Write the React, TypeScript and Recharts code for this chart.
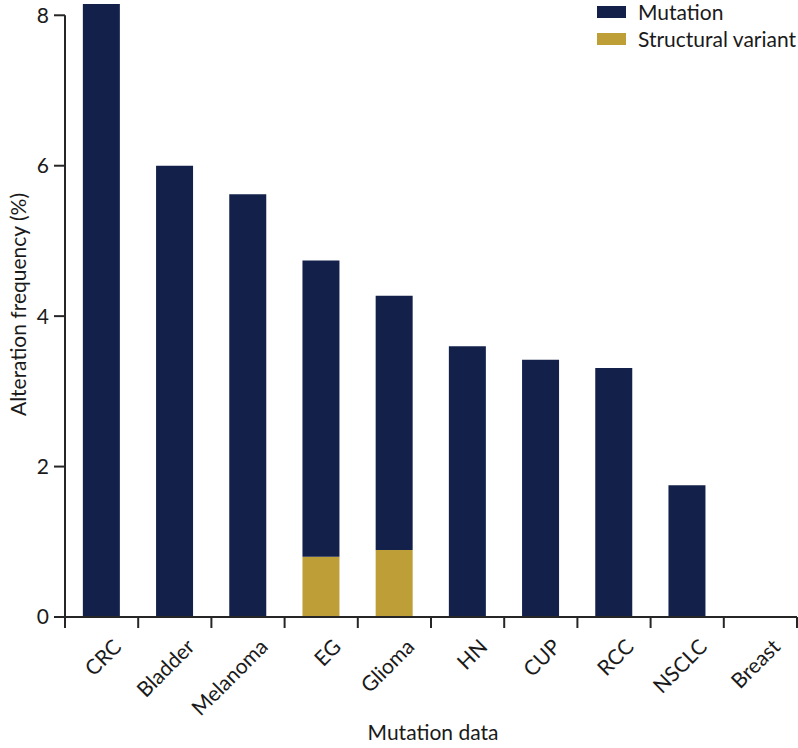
import React from "react";
import { BarChart, Bar, XAxis, YAxis, ReferenceLine, Legend, Label } from "recharts";

const categories = ["CRC", "Bladder", "Melanoma", "EG", "Glioma", "HN", "CUP", "RCC", "NSCLC", "Breast"];
const mutationValues = [8.15, 6.0, 5.62, 3.94, 3.38, 3.6, 3.42, 3.31, 1.75, 0];
const structuralValues = [0, 0, 0, 0.8, 0.89, 0, 0, 0, 0, 0];
const yTicks = [0, 2, 4, 6, 8];
const seriesNames = ["Mutation", "Structural variant"];
const xTitle = "Mutation data";
const yTitle = "Alteration frequency (%)";

const NAVY = "#13204a";
const GOLD = "#bd9e37";
const AXIS = "#262626";
const TEXT = "#1a1a1a";
const FONT = "Lato, 'Open Sans', sans-serif";
const FS = 21;

const data = categories.map((c, i) => ({
  name: c,
  mut: mutationValues[i],
  sv: structuralValues[i],
}));

const XTick = (props: any) => {
  const { x, y, payload, index, visibleTicksCount } = props;
  const off = payload.offset || 0;
  const ax = x + 16;
  const ay = y + 26;
  return (
    <g>
      <line x1={x - off} x2={x - off} y1={y} y2={y + 11} stroke={AXIS} strokeWidth={2} />
      {index === visibleTicksCount - 1 && (
        <line x1={x + off} x2={x + off} y1={y} y2={y + 11} stroke={AXIS} strokeWidth={2} />
      )}
      <text
        x={ax}
        y={ay}
        transform={`rotate(-45, ${ax}, ${ay})`}
        textAnchor="end"
        dy="0.35em"
        fill={TEXT}
        fontSize={FS}
        fontFamily={FONT}
      >
        {payload.value}
      </text>
    </g>
  );
};

const LegendContent = () => (
  <div style={{ fontFamily: FONT, fontSize: FS, color: TEXT, lineHeight: "20px" }}>
    {seriesNames.map((n, i) => (
      <div key={n} style={{ display: "flex", alignItems: "center", height: 27 }}>
        <div style={{ width: 29, height: 12, background: i === 0 ? NAVY : GOLD, marginRight: 12, flexShrink: 0 }} />
        <span style={{ whiteSpace: "nowrap" }}>{n}</span>
      </div>
    ))}
  </div>
);

export default function App() {
  return (
    <div style={{ position: "absolute", left: 0, top: 0, width: 798, height: 748, overflow: "hidden" }}>
      <BarChart
        width={798}
        height={748}
        data={data}
        margin={{ top: 4, right: 1, left: 0, bottom: 0 }}
        barCategoryGap="24.4%"
      >
        <XAxis
          dataKey="name"
          height={131}
          interval={0}
          tickLine={false}
          tickSize={0}
          tickMargin={0}
          tick={<XTick />}
          axisLine={{ stroke: AXIS, strokeWidth: 2 }}
        >
          <Label
            content={(p: any) => {
              const vb = p.viewBox;
              const cx = vb.x + vb.width / 2 + 2;
              return (
                <text x={cx} y={740} textAnchor="middle" fill={TEXT} fontSize={FS} fontFamily={FONT}>
                  {xTitle}
                </text>
              );
            }}
          />
        </XAxis>
        <XAxis xAxisId="n" type="number" domain={[0, 10]} hide />
        <YAxis
          width={65}
          domain={[0, 8.15]}
          ticks={yTicks}
          axisLine={false}
          tickSize={11}
          tickMargin={5}
          tickLine={{ stroke: AXIS, strokeWidth: 2 }}
          tick={{ fill: TEXT, fontSize: FS, fontFamily: FONT }}
        >
          <Label
            content={() => {
              const cx = 17;
              const cy = 304.5;
              return (
                <text
                  x={cx}
                  y={cy}
                  transform={`rotate(-90, ${cx}, ${cy})`}
                  textAnchor="middle"
                  dominantBaseline="central"
                  fill={TEXT}
                  fontSize={FS}
                  fontFamily={FONT}
                >
                  {yTitle}
                </text>
              );
            }}
          />
        </YAxis>
        <ReferenceLine
          xAxisId="n"
          segment={[{ x: 0, y: 0 }, { x: 0, y: 8 }]}
          stroke={AXIS}
          strokeWidth={2}
        />
        <Bar dataKey="sv" stackId="a" fill={GOLD} isAnimationActive={false} />
        <Bar dataKey="mut" stackId="a" fill={NAVY} isAnimationActive={false} />
        <Legend
          layout="vertical"
          align="center"
          verticalAlign="middle"
          wrapperStyle={{ position: "absolute", top: -2, left: 597, width: 200 }}
          content={<LegendContent />}
        />
      </BarChart>
    </div>
  );
}
